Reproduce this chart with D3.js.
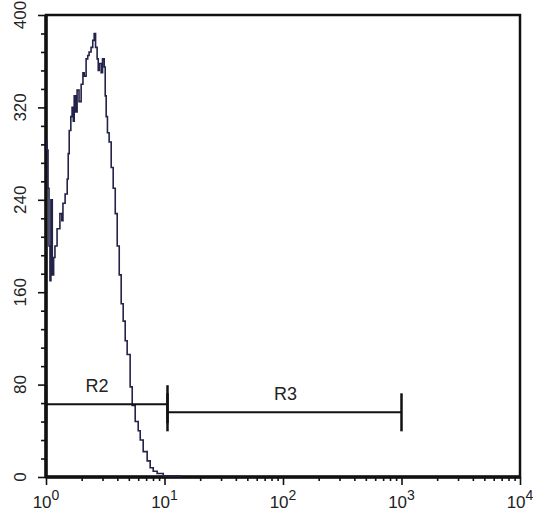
<!DOCTYPE html>
<html>
<head>
<meta charset="utf-8">
<script src="https://cdn.jsdelivr.net/npm/d3@7"></script>
<style>
  body { margin: 0; background: #fff; }
  svg { display: block; }
</style>
</head>
<body>
<div class="chart"></div>
<script>
// fluorescence intensity (log channel) and event counts
const intensity = [1.0, 1.02, 1.04, 1.06, 1.08, 1.10, 1.13, 1.16, 1.19, 1.24, 1.31, 1.36, 1.39, 1.45,
  1.51, 1.54, 1.57, 1.62, 1.66, 1.70, 1.73, 1.78, 1.83, 1.90, 1.98, 2.05, 2.10, 2.18, 2.25,
  2.31, 2.40, 2.48, 2.55, 2.62, 2.70, 2.76, 2.81, 2.92, 3.00, 3.10, 3.16, 3.22, 3.30, 3.41,
  3.55, 3.69, 3.84, 3.99, 4.15, 4.31, 4.48, 4.66, 4.84, 5.13, 5.34, 5.66, 6.00, 6.24, 6.61,
  7.14, 7.57, 8.03, 8.67, 9.76, 11.2, 13.6];
const counts = [290, 283, 250, 200, 170, 240, 175, 190, 200, 215, 228, 222, 237, 245,
  258, 280, 300, 312, 320, 308, 330, 316, 335, 325, 340, 350, 347, 362, 365,
  368, 372, 378, 384, 372, 362, 352, 358, 350, 362, 355, 330, 312, 298, 290,
  268, 250, 228, 200, 175, 150, 135, 118, 106, 78, 62, 48, 40, 32, 22,
  14, 8, 5, 3, 1, 1, 0];

const yTicks = [0, 80, 160, 240, 320, 400];
const xDecades = [0, 1, 2, 3, 4];

// gates: name, start, end, level (counts), label position
const gateNames = ['R2', 'R3'];
const gateStart = [1, 10.6];
const gateEnd = [10.6, 1000];
const gateLevel = [63, 56];
const gateLabelX = [2.7, 105];
const gateLabelY = [74, 67];

const width = 533, height = 514;
const fontFamily = 'Arial, "Liberation Sans", sans-serif';

const svg = d3.select('.chart').append('svg')
  .attr('width', width).attr('height', height);

const x = d3.scaleLog().domain([1, 1e4]).range([46, 520]);
const y = d3.scaleLinear().domain([0, 400]).range([477, 15]);

// minor ticks
const yMinor = d3.range(0, 401, 16).filter(d => d % 80 !== 0);
svg.append('g')
  .attr('transform', 'translate(' + x(1) + ',0)')
  .call(d3.axisLeft(y).tickValues(yMinor).tickSize(5).tickFormat(''))
  .call(g => g.select('.domain').remove());
svg.append('g')
  .attr('transform', 'translate(' + x(1) + ',0)')
  .call(d3.axisLeft(y).tickValues(yTicks).tickSize(8).tickFormat(''))
  .call(g => g.select('.domain').remove());

const xMinor = [];
for (let e = 0; e < 4; e++) for (let k = 2; k <= 9; k++) xMinor.push(k * Math.pow(10, e));
svg.append('g')
  .attr('transform', 'translate(0,' + y(0) + ')')
  .call(d3.axisBottom(x).tickValues(xMinor).tickSize(4).tickFormat(''))
  .call(g => g.select('.domain').remove());
svg.append('g')
  .attr('transform', 'translate(0,' + y(0) + ')')
  .call(d3.axisBottom(x).tickValues(xDecades.map(d => Math.pow(10, d))).tickSize(8).tickFormat(''))
  .call(g => g.select('.domain').remove());

svg.selectAll('.tick line').attr('stroke', '#111').attr('stroke-width', 1.6);

// frame
svg.append('rect')
  .attr('x', x(1)).attr('y', y(400))
  .attr('width', x(1e4) - x(1)).attr('height', y(0) - y(400))
  .attr('fill', 'none').attr('stroke', '#111').attr('stroke-width', 2.5);
svg.append('line')
  .attr('x1', x(1)).attr('x2', x(1)).attr('y1', y(400)).attr('y2', y(0) + 1)
  .attr('stroke', '#111').attr('stroke-width', 3.5);
svg.append('line')
  .attr('x1', x(1)).attr('x2', x(1e4)).attr('y1', y(0)).attr('y2', y(0))
  .attr('stroke', '#111').attr('stroke-width', 3.5);

// y labels (rotated)
svg.selectAll('.ylab')
  .data(yTicks)
  .enter().append('text')
  .attr('transform', d => 'translate(26,' + y(d) + ') rotate(-90)')
  .attr('text-anchor', 'middle')
  .attr('font-family', fontFamily)
  .attr('font-size', 17)
  .attr('fill', '#222')
  .text(d => d);

// x labels 10^n
const xl = svg.selectAll('.xlab')
  .data(xDecades)
  .enter().append('text')
  .attr('x', d => x(Math.pow(10, d)))
  .attr('y', 508)
  .attr('text-anchor', 'middle')
  .attr('font-family', fontFamily)
  .attr('font-size', 17)
  .attr('fill', '#222');
xl.append('tspan').text('10');
xl.append('tspan').attr('dy', -8).attr('font-size', 14).text(d => d);

// histogram
const pts = intensity.map((v, i) => [v, counts[i]]);
const line = d3.line()
  .x(d => x(d[0])).y(d => y(d[1]))
  .curve(d3.curveStepAfter);
svg.append('path')
  .attr('d', line(pts))
  .attr('fill', 'none')
  .attr('stroke', '#23234a')
  .attr('stroke-width', 1.6);

// gates
const gates = svg.selectAll('.gate')
  .data(gateNames)
  .enter().append('g');
gates.append('line')
  .attr('x1', (d, i) => x(gateStart[i])).attr('x2', (d, i) => x(gateEnd[i]))
  .attr('y1', (d, i) => y(gateLevel[i])).attr('y2', (d, i) => y(gateLevel[i]))
  .attr('stroke', '#111').attr('stroke-width', 2);
gates.append('line')
  .attr('x1', (d, i) => x(gateStart[i])).attr('x2', (d, i) => x(gateStart[i]))
  .attr('y1', (d, i) => y(gateLevel[i]) - 19).attr('y2', (d, i) => y(gateLevel[i]) + 19)
  .attr('stroke', '#111').attr('stroke-width', 2.5);
gates.append('line')
  .attr('x1', (d, i) => x(gateEnd[i])).attr('x2', (d, i) => x(gateEnd[i]))
  .attr('y1', (d, i) => y(gateLevel[i]) - 19).attr('y2', (d, i) => y(gateLevel[i]) + 19)
  .attr('stroke', '#111').attr('stroke-width', 2.5);
gates.append('text')
  .attr('x', (d, i) => x(gateLabelX[i]))
  .attr('y', (d, i) => y(gateLabelY[i]))
  .attr('text-anchor', 'middle')
  .attr('font-family', fontFamily)
  .attr('font-size', 18)
  .attr('fill', '#222')
  .text(d => d);
</script>
</body>
</html>
